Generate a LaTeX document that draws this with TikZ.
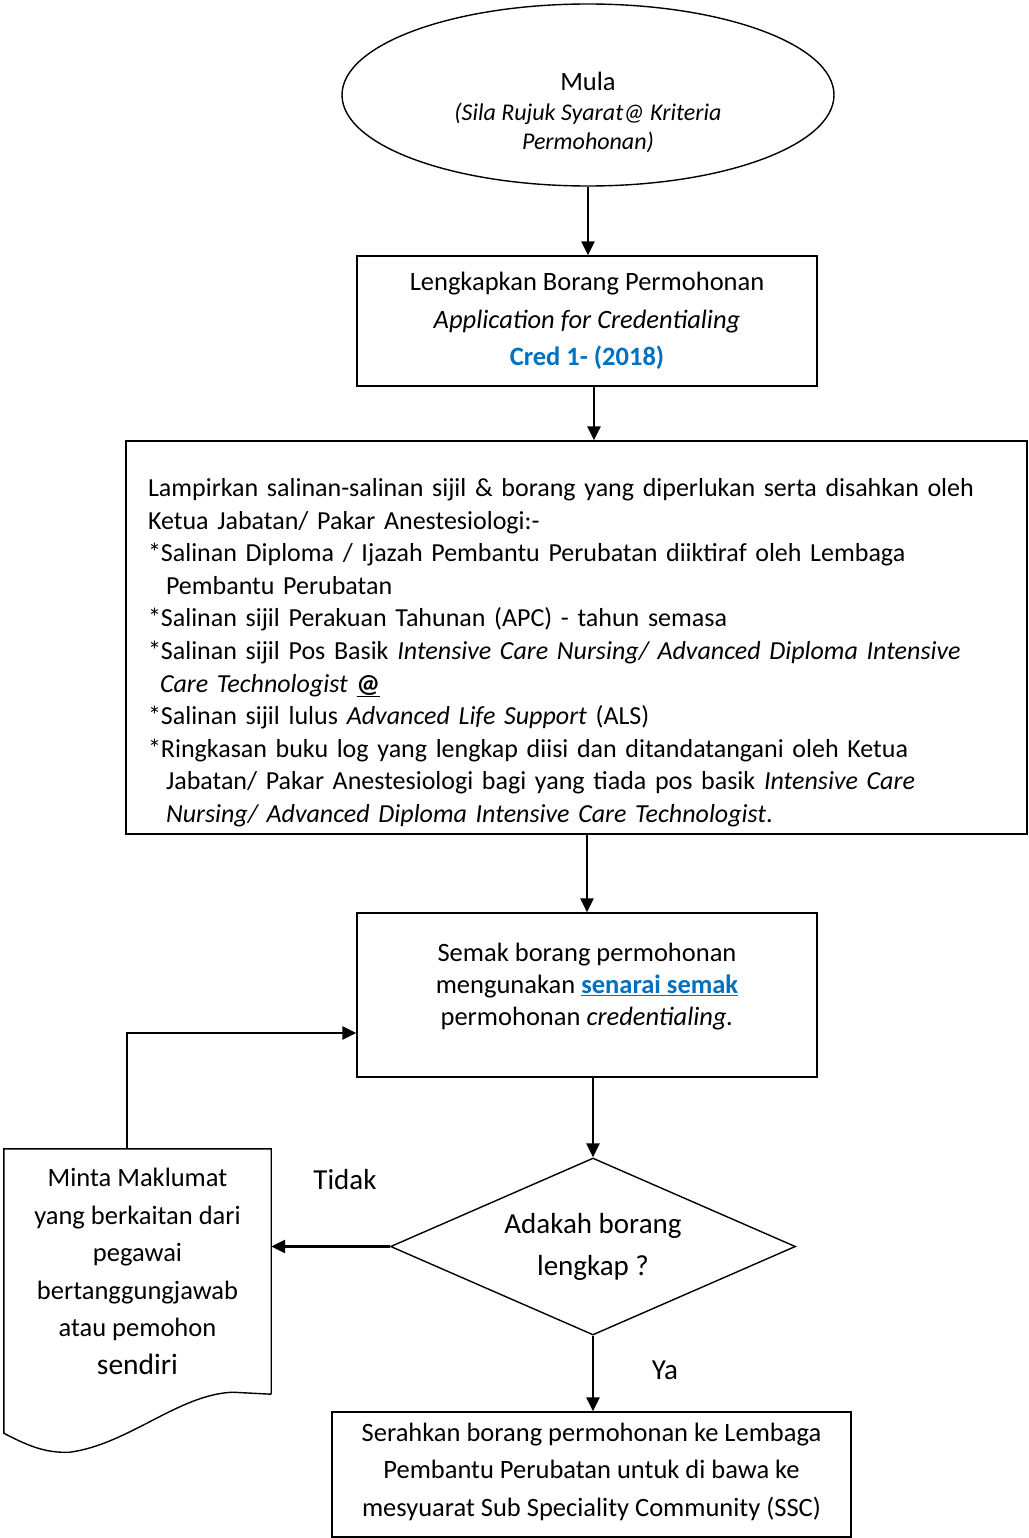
\documentclass[tikz,border=0pt]{standalone}
\usepackage{fontspec}
\setmainfont{Carlito}
\usetikzlibrary{arrows.meta,shapes.geometric,calc}
\definecolor{credblue}{RGB}{0,112,192}

\begin{document}
\begin{tikzpicture}[x=1pt, y=-1pt,
    terminal/.style={ellipse, draw, line width=1.4pt, minimum width=492pt, minimum height=182pt,
        inner sep=0pt, align=center, font=\fontsize{24}{29.5}\selectfont},
    process/.style={rectangle, draw, line width=1.4pt, inner sep=0pt,
        align=center, font=\fontsize{26.5}{37.5}\selectfont},
    decision/.style={diamond, draw, line width=1.4pt, aspect=2.29, minimum width=405pt, minimum height=177pt,
        inner sep=0pt, align=center, font=\fontsize{29}{42}\selectfont},
    docshape/.style={rectangle, draw=none, minimum width=267pt, minimum height=245pt,
        inner sep=0pt, align=center, font=\fontsize{26.5}{37.5}\selectfont},
    answer/.style={font=\fontsize{29}{32}\selectfont},
    flow/.style={-{Triangle[length=14pt,width=13pt]}, line width=2.6pt}
    ]
    \useasboundingbox (0,0) rectangle (1028,1538);
    \node (Start00) [terminal] at (588,95)
        {\mbox{}\\[24pt] {\fontsize{26.5}{29.5}\selectfont Mula}\\ \textit{(Sila Rujuk Syarat@ Kriteria}\\ \textit{Permohonan)}};
    \node (Box01) [process, minimum width=460pt, minimum height=130pt] at (587,321)
        {Lengkapkan Borang Permohonan\\ \textit{Application for Credentialing}\\ \textcolor{credblue}{\textbf{Cred 1- (2018)}}};
    \node (Box02) [process, minimum height=393pt, text width=857pt, inner xsep=22pt, align=left,
        font=\fontsize{26}{32.6}\selectfont] at (576.5,637.5)
        {\mbox{}\\[16pt]
        Lampirkan salinan-salinan sijil \& borang yang diperlukan serta disahkan oleh\\
        Ketua Jabatan/ Pakar Anestesiologi:-\\
        {*}Salinan Diploma / Ijazah Pembantu Perubatan diiktiraf oleh Lembaga\\
        \hspace*{18pt}Pembantu Perubatan\\
        {*}Salinan sijil Perakuan Tahunan (APC) - tahun semasa\\
        {*}Salinan sijil Pos Basik \textit{Intensive Care Nursing/ Advanced Diploma Intensive}\\
        \hspace*{12pt}\textit{Care Technologist} \underline{\textbf{@}}\\
        {*}Salinan sijil lulus \textit{Advanced Life Support} (ALS)\\
        {*}Ringkasan buku log yang lengkap diisi dan ditandatangani oleh Ketua\\
        \hspace*{18pt}Jabatan/ Pakar Anestesiologi bagi yang tiada pos basik \textit{Intensive Care}\\
        \hspace*{18pt}\textit{Nursing/ Advanced Diploma Intensive Care Technologist}.};
    \node (Box03) [process, minimum width=460pt, minimum height=164pt,
        font=\fontsize{26.5}{32}\selectfont] at (587,995)
        {Semak borang permohonan\\ mengunakan \textcolor{credblue}{\underline{\textbf{senarai semak}}}\\
        permohonan \textit{credentialing.}\\[-10pt] \mbox{}};
    \node (Dec04) [decision] at (593,1246.5) {Adakah borang\\ lengkap ?};
    \node (Doc05) [docshape] at (137.5,1271.5)
        {Minta Maklumat\\ yang berkaitan dari\\ pegawai\\ bertanggungjawab\\ atau pemohon\\
        {\fontsize{29.5}{37.5}\selectfont sendiri}};
    \node (Box06) [process, minimum width=519pt, minimum height=125pt] at (591.5,1474.5)
        {Serahkan borang permohonan ke Lembaga\\ Pembantu Perubatan untuk di bawa ke\\
        mesyuarat Sub Speciality Community (SSC)\\[-27.5pt] \mbox{}};
    \node (LblTidak) [answer] at (345,1180) {Tidak};
    \node (LblYa) [answer] at (665,1370) {Ya};
    \draw[line width=1.4pt] (Doc05.south east) -- (Doc05.north east) -- (Doc05.north west)
        -- ($(Doc05.south west)+(0,39)$)
        .. controls ($(Doc05.south west)+(25,52)$) and ($(Doc05.south west)+(42,59)$) .. ($(Doc05.south west)+(66,58)$)
        .. controls ($(Doc05.south west)+(125,50)$) and ($(Doc05.south west)+(175,0)$) .. ($(Doc05.south west)+(229,-2)$)
        -- (Doc05.south east);
    \draw[flow] (Start00.south) -- (Start00.south |- Box01.north);
    \draw[flow] ([xshift=7pt]Box01.south) -- ([xshift=7pt]Box01.south |- Box02.north);
    \draw[flow] (Box03.north |- Box02.south) -- (Box03.north);
    \draw[flow] (Dec04.north |- Box03.south) -- (Dec04.north);
    \draw[flow] (Dec04.west) -- (Dec04.west -| Doc05.east);
    \draw[flow] ([xshift=-10.5pt]Doc05.north) |- ([yshift=-38pt]Box03.west);
    \draw[flow] (Dec04.south) -- (Dec04.south |- Box06.north);
\end{tikzpicture}
\end{document}
